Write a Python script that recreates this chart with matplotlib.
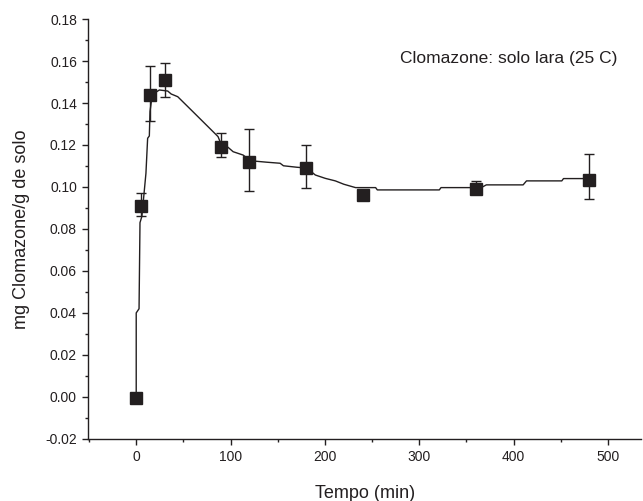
import numpy as np
import matplotlib
matplotlib.use("Agg")
import matplotlib.pyplot as plt
from matplotlib.ticker import MultipleLocator

plt.rcParams['font.family'] = ['Liberation Sans', 'DejaVu Sans']

# pontos experimentais
tempo = [0, 5, 15, 30, 90, 120, 180, 240, 360, 480]
conc = [-0.0005, 0.0911, 0.1438, 0.1508, 0.1192, 0.1120, 0.1092, 0.0962, 0.0992, 0.1033]
conc_sup = [-0.0005, 0.0970, 0.1576, 0.1589, 0.1256, 0.1275, 0.1200, 0.0962, 0.1027, 0.1157]
conc_inf = [-0.0005, 0.0860, 0.1316, 0.1430, 0.1141, 0.0982, 0.0997, 0.0962, 0.0992, 0.0941]

# curva ajustada
curva_t = [0, 0, 3, 4, 6, 10.3, 12.1, 13.9, 14.6, 17, 24.5, 33.4, 37, 44, 60, 86.7, 90.3,
           97.3, 102.7, 113.3, 121, 138.3, 152.5, 156, 170.2, 180.9, 189.8, 200.4,
           211, 220, 232.4, 253.7, 255.5, 321.2, 323, 365.7, 371, 410, 413.6, 451,
           452.8, 481]
curva_y = [-0.0005, 0.040, 0.042, 0.083, 0.086, 0.1065, 0.1232, 0.1243, 0.1359, 0.1440,
           0.1462, 0.1457, 0.1443, 0.1430, 0.1359, 0.1240, 0.1200, 0.1189, 0.1168,
           0.1152, 0.1125, 0.1118, 0.1113, 0.1101, 0.1094, 0.1090, 0.1057, 0.1041,
           0.1029, 0.1013, 0.0997, 0.0997, 0.0986, 0.0986, 0.0997, 0.0997, 0.1010,
           0.1010, 0.1029, 0.1029, 0.1040, 0.1040]

cor = '#231f20'

fig = plt.figure(figsize=(6.43, 5.01), dpi=100)
ax = fig.add_axes([0.137, 0.124, 0.860, 0.838])

ax.plot(curva_t, curva_y, color=cor, lw=1.0, zorder=2)

c = np.array(conc)
erro = [c - np.array(conc_inf), np.array(conc_sup) - c]
ax.errorbar(tempo, conc, yerr=erro, fmt='none', ecolor=cor, elinewidth=1.0,
            capsize=3.5, capthick=1.0, zorder=3)
ax.plot(tempo, conc, 's', color=cor, markersize=9, zorder=4)

ax.text(0.957, 0.905, 'Clomazone: solo lara (25 C)', transform=ax.transAxes,
        ha='right', va='center', fontsize=12.5, color=cor)

ax.set_xlim(-51, 535)
ax.set_ylim(-0.02, 0.18)
ax.xaxis.set_major_locator(MultipleLocator(100))
ax.xaxis.set_minor_locator(MultipleLocator(50))
ax.yaxis.set_major_locator(MultipleLocator(0.02))
ax.yaxis.set_minor_locator(MultipleLocator(0.01))
ax.yaxis.set_major_formatter(plt.FuncFormatter(lambda v, p: f'{v:.2f}'))

ax.spines['top'].set_visible(False)
ax.spines['right'].set_visible(False)
for s in ['left', 'bottom']:
    ax.spines[s].set_color(cor)
    ax.spines[s].set_linewidth(1.0)

ax.tick_params(which='major', direction='out', length=4, width=1, color=cor,
               labelsize=10, pad=4, labelcolor=cor)
ax.tick_params(which='minor', direction='out', length=2.5, width=1, color=cor)

ax.set_xlabel('Tempo (min)', fontsize=13, labelpad=15, color=cor)
ax.set_ylabel('mg Clomazone/g de solo', fontsize=13, labelpad=11, color=cor)

fig.savefig('out.png', dpi=100)
